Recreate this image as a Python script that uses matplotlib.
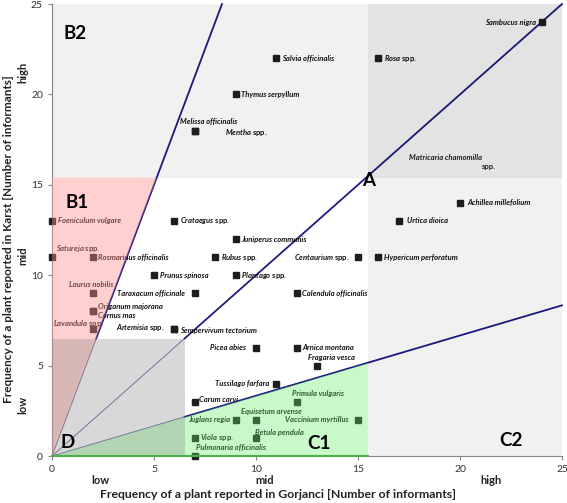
import matplotlib
matplotlib.use("Agg")
import matplotlib.pyplot as plt
from matplotlib.patches import Polygon, Rectangle

plt.rcParams['font.family'] = ['Lato', 'DejaVu Sans']
plt.rcParams['mathtext.fontset'] = 'custom'
plt.rcParams['mathtext.it'] = 'Lato:italic:bold'
plt.rcParams['mathtext.rm'] = 'Lato:bold'

# --- data: plant, Gorjanci frequency, Karst frequency ---
plants = ['Sambucus nigra', 'Rosa spp.', 'Salvia officinalis', 'Thymus serpyllum',
          'Melissa officinalis', 'Mentha spp.', 'Foeniculum vulgare', 'Crataegus spp.',
          'Juniperus communis', 'Satureja spp.', 'Rosmarinus officinalis', 'Rubus spp.',
          'Centaurium spp.', 'Hypericum perforatum', 'Urtica dioica', 'Achillea millefolium',
          'Prunus spinosa', 'Plantago spp.', 'Laurus nobilis', 'Taraxacum officinale',
          'Calendula officinalis', 'Origanum majorana', 'Cornus mas', 'Lavandula spp.',
          'Artemisia spp.', 'Sempervivum tectorium', 'Picea abies', 'Arnica montana',
          'Fragaria vesca', 'Tussilago farfara', 'Carum carvi', 'Primula vulgaris',
          'Juglans regia', 'Equisetum arvense', 'Vaccinium myrtillus', 'Betula pendula',
          'Viola spp.', 'Pulmonaria officinalis']
gorjanci = [24, 16, 11, 9, 7, 7, 0, 6, 9, 0, 2, 8, 15, 16, 17, 20, 5, 9, 2, 7,
            12, 2, 2, 2, 6, 6, 10, 12, 13, 11, 7, 12, 9, 10, 15, 10, 7, 7]
karst = [24, 22, 22, 20, 18, 18, 13, 13, 12, 11, 11, 11, 11, 11, 13, 14, 10, 10, 9, 9,
         9, 8, 8, 7, 7, 7, 6, 6, 5, 4, 3, 3, 2, 2, 2, 1, 1, 0]

ticks = [0, 5, 10, 15, 20, 25]
level_names = ['low', 'mid', 'high']
slopes = [3, 1, 1 / 3]          # boundary lines through the origin
low_cut, high_cut_x, high_cut_y = 6.5, 15.5, 15.4

# label placement: (dx pt, dy pt, ha)
place = {
    'Sambucus nigra': (-4, 0, 'right'), 'Melissa officinalis': (10, 6.5, 'center'),
    'Mentha spp.': (22, -1.5, 'left'), 'Satureja spp.': (3, 6.5, 'left'),
    'Centaurium spp.': (-6, 0, 'right'), 'Urtica dioica': (6, 0, 'left'),
    'Achillea millefolium': (5, 0, 'left'), 'Laurus nobilis': (-1, 6, 'center'),
    'Taraxacum officinale': (-7, 0, 'right'), 'Origanum majorana': (4, 3.5, 'left'),
    'Cornus mas': (4, -3, 'left'), 'Lavandula spp.': (-10, 4, 'center'),
    'Artemisia spp.': (-7, 1.5, 'right'), 'Sempervivum tectorium': (4, -0.5, 'left'),
    'Picea abies': (-7, 0, 'right'), 'Fragaria vesca': (10, 6, 'center'),
    'Tussilago farfara': (-5, 0, 'right'), 'Carum carvi': (3, 2, 'left'),
    'Primula vulgaris': (15, 6, 'center'), 'Juglans regia': (-4, 0, 'right'),
    'Equisetum arvense': (11, 6, 'center'), 'Vaccinium myrtillus': (-7, 0, 'right'),
    'Betula pendula': (-1, 4, 'left'), 'Pulmonaria officinalis': (1, 6, 'left'),
}


def label_text(name):
    if name.endswith(' spp.'):
        return r'$\mathit{' + name[:-5] + '}$ spp.'
    return name


fig = plt.figure(figsize=(5.67, 5.03), dpi=100)
ax = fig.add_axes([0.0917, 0.0934, 0.8995, 0.8986])
ax.set_xlim(0, 25)
ax.set_ylim(0, 25)

# boundary lines (faint inside D, dark outside)
for s in slopes:
    xe = min(low_cut, low_cut / s)
    xend = min(25, 25 / s)
    ax.plot([0, xe], [0, s * xe], color='#6e6ca8', lw=0.7, zorder=2)
    ax.plot([xe, xend], [s * xe, s * xend], color='#1c1c84', lw=1.3, zorder=2,
            clip_on=False)

# points and labels
for name, gx, ky in zip(plants, gorjanci, karst):
    ax.plot(gx, ky, 's', color='#1e1e1e', ms=4.8, zorder=3, clip_on=False)
    dx, dy, ha = place.get(name, (4, 0, 'left'))
    fs = 'italic' if not name.endswith(' spp.') else 'normal'
    ax.annotate(label_text(name), (gx, ky), xytext=(dx, dy), textcoords='offset points',
                ha=ha, va='center', fontsize=5.5, fontweight='bold', fontstyle=fs,
                color='#111111', zorder=3)

ax.text(19.3, 16.5, 'Matricaria chamomilla', fontsize=5.5, fontstyle='italic',
        fontweight='bold', color='#222222', ha='center', va='center', zorder=3)
ax.text(21.4, 16.0, 'spp.', fontsize=5.5, fontweight='bold', color='#222222',
        ha='center', va='center', zorder=3)

# shaded regions (drawn over marks, translucent)
ax.add_patch(Rectangle((0, high_cut_y), 25, 25 - high_cut_y, fc='black', alpha=0.055,
                       lw=0, zorder=4))
ax.add_patch(Rectangle((high_cut_x, 0), 25 - high_cut_x, 25, fc='black', alpha=0.055,
                       lw=0, zorder=4))
ax.add_patch(Polygon([(0, 0), (high_cut_y / slopes[0], high_cut_y), (0, high_cut_y)],
                     fc='#ff9090', alpha=0.42, lw=0, zorder=4))
ax.add_patch(Polygon([(0, 0), (high_cut_x, 0), (high_cut_x, high_cut_x * slopes[2])],
                     fc='#66ee66', alpha=0.35, lw=0, zorder=4))
ax.add_patch(Rectangle((0, 0), low_cut, low_cut, fc='#808080', alpha=0.3, lw=0, zorder=4))
ax.plot([0, high_cut_x], [0, 0], color='#4caf4c', lw=1.5, zorder=5, clip_on=False)

# region letters
for lbl, x, y, ha in [('B2', 0.55, 23.35, 'left'), ('B1', 0.65, 14.0, 'left'),
                      ('A', 15.5, 15.25, 'center'), ('D', 0.4, 0.75, 'left'),
                      ('C1', 12.5, 0.7, 'left'), ('C2', 21.9, 0.85, 'left')]:
    ax.text(x, y, lbl, fontsize=13.5, fontweight='bold', color='black', ha=ha,
            va='center', zorder=6)

# axes styling
for side in ['top', 'right']:
    ax.spines[side].set_visible(False)
for side in ['left', 'bottom']:
    ax.spines[side].set_color('#888888')
ax.set_xticks(ticks)
ax.set_yticks(ticks)
ax.tick_params(colors='#888888', labelcolor='#333333', labelsize=7.5, length=3)

for lvl, x in zip(level_names, [2.35, 10.45, 21.5]):
    ax.text(x, -0.055, lvl, transform=ax.get_xaxis_transform(), ha='center', va='center',
            fontsize=8, fontweight='bold', color='#222222')
for lvl, y in zip(level_names, [2.8, 11.1, 21.2]):
    ax.text(-0.057, y, lvl, transform=ax.get_yaxis_transform(), ha='center', va='center',
            rotation=90, fontsize=8, fontweight='bold', color='#222222')

ax.set_xlabel('Frequency of a plant reported in Gorjanci [Number of informants]',
              fontsize=8.8, fontweight='bold', color='#222222')
ax.xaxis.set_label_coords(0.443, -0.073)
ax.set_ylabel('Frequency of a plant reported in Karst [Number of informants]',
              fontsize=8.5, fontweight='bold', color='#222222')
ax.yaxis.set_label_coords(-0.074, 0.48)

fig.savefig('out.png', dpi=100)
